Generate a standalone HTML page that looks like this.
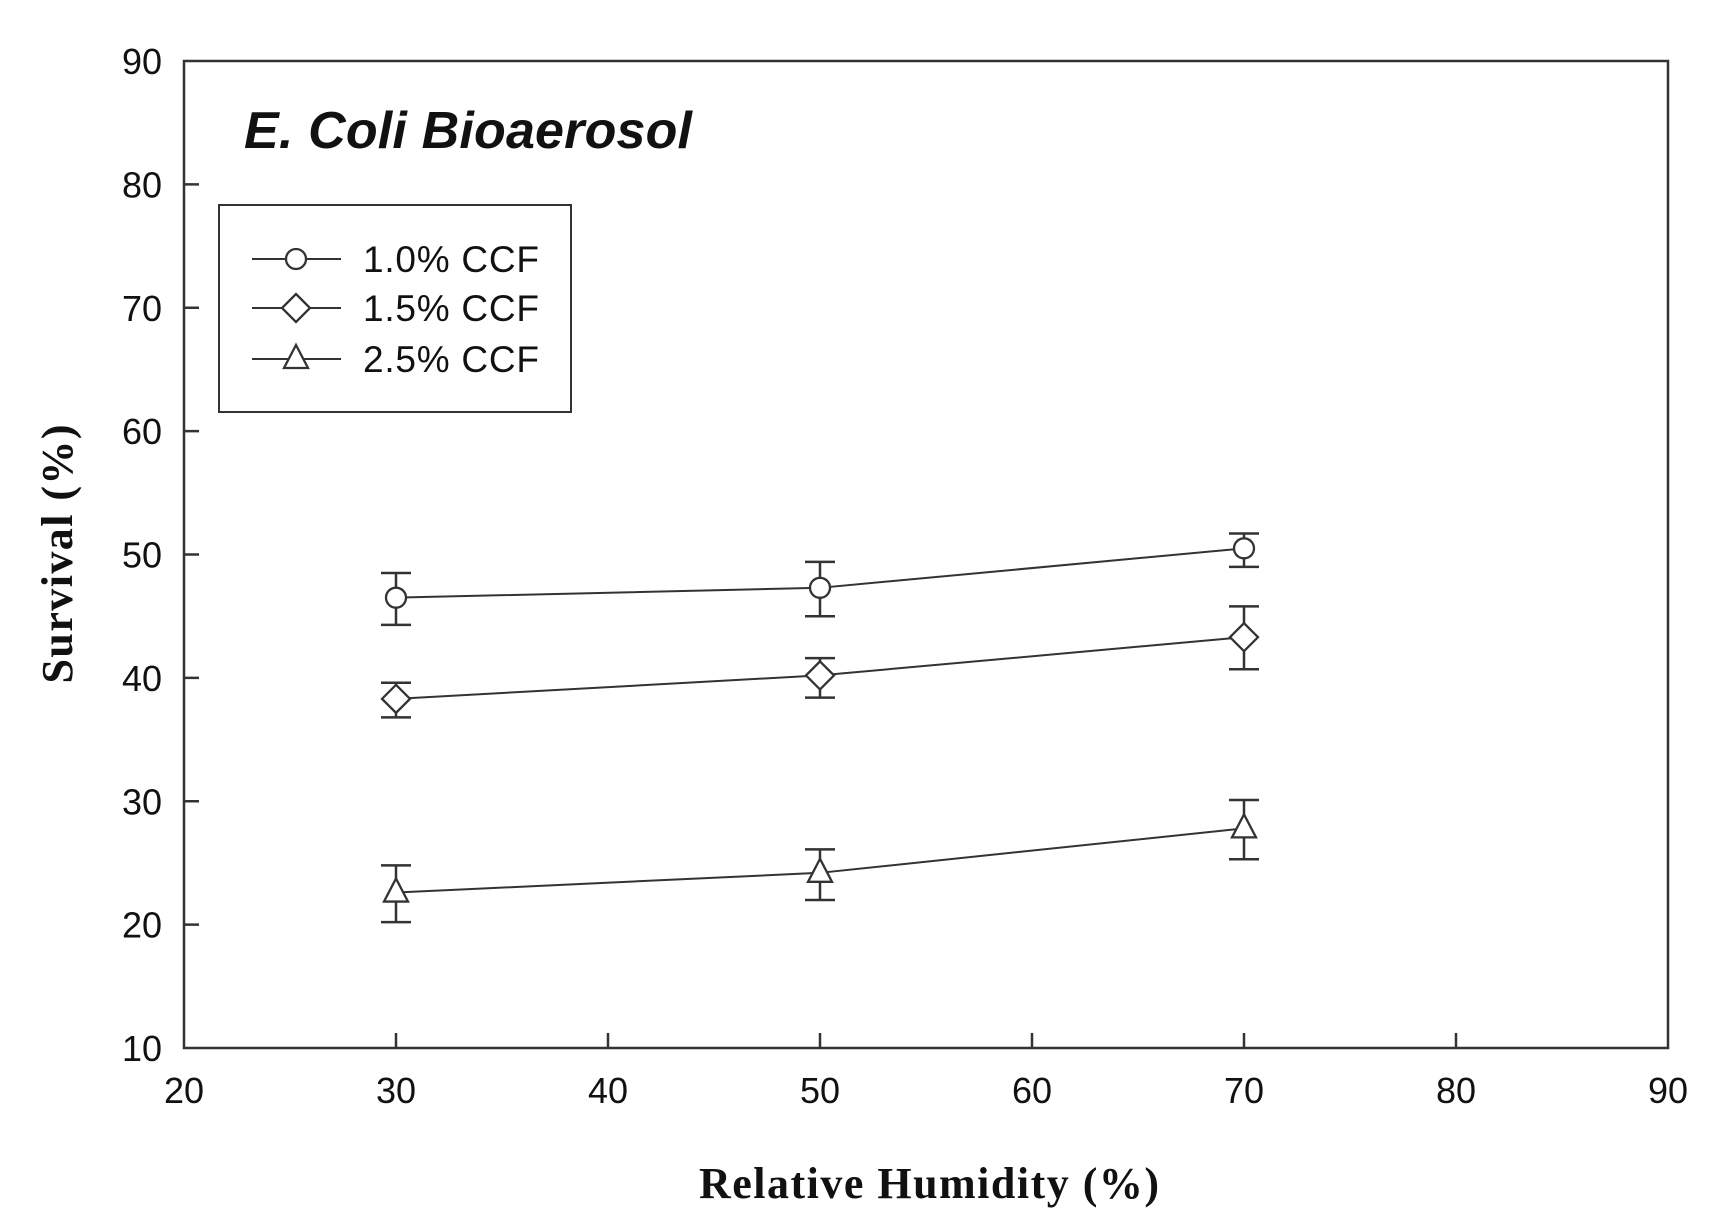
<!DOCTYPE html>
<html><head><meta charset="utf-8"><style>
html,body{margin:0;padding:0;background:#fff;}
svg{display:block;}
text{font-family:"Liberation Sans",sans-serif;fill:#111;}
</style></head><body>
<svg id="chart" width="1717" height="1226" viewBox="0 0 1717 1226" xmlns="http://www.w3.org/2000/svg">
<rect x="184" y="61" width="1484" height="987" fill="none" stroke="#333" stroke-width="2.5"/>
<g id="ticks"></g>
<g id="series"></g>
<text x="244" y="148" font-size="52" font-weight="bold" font-style="italic" textLength="448">E. Coli Bioaerosol</text>
<g>
<rect x="219" y="205" width="352" height="207" fill="#fff" stroke="#333" stroke-width="2"/>
<g id="legend-items"></g>
</g>
<text x="929" y="1198" font-size="44" font-weight="bold" text-anchor="middle" style="font-family:'Liberation Serif',serif" textLength="460">Relative Humidity (%)</text>
<text transform="translate(72,554) rotate(-90)" font-size="44" font-weight="bold" text-anchor="middle" style="font-family:'Liberation Serif',serif" textLength="259">Survival (%)</text>
</svg>
<script>
const xCategories = [30, 50, 70];
const seriesNames = ["1.0% CCF", "1.5% CCF", "2.5% CCF"];
const seriesMarkers = ["circle", "diamond", "triangle"];
const valuesCCF10 = [46.5, 47.3, 50.5];
const valuesCCF15 = [38.3, 40.2, 43.3];
const valuesCCF25 = [22.6, 24.2, 27.8];
const errUpCCF10 = [48.5, 49.4, 51.7];
const errLowCCF10 = [44.3, 45.0, 49.0];
const errUpCCF15 = [39.6, 41.6, 45.8];
const errLowCCF15 = [36.8, 38.4, 40.7];
const errUpCCF25 = [24.8, 26.1, 30.1];
const errLowCCF25 = [20.2, 22.0, 25.3];
const xTicks = [20, 30, 40, 50, 60, 70, 80, 90];
const yTicks = [10, 20, 30, 40, 50, 60, 70, 80, 90];

const NS = "http://www.w3.org/2000/svg";
const X0 = 184, X1 = 1668, Y0 = 1048, Y1 = 61;
function xs(v){ return X0 + (v - 20) / 70 * (X1 - X0); }
function ys(v){ return Y0 - (v - 10) / 80 * (Y0 - Y1); }
function mk(tag, attrs, parent){
  const e = document.createElementNS(NS, tag);
  for (const k in attrs) e.setAttribute(k, attrs[k]);
  parent.appendChild(e);
  return e;
}
const ticks = document.getElementById("ticks");
xTicks.forEach(t => {
  const x = xs(t);
  if (t > 20 && t < 90) {
    const l = mk("line", {x1:x, x2:x, y1:Y0, y2:Y0-15, stroke:"#333", "stroke-width":2.5}, ticks);
    
    
  }
  const tx = mk("text", {x:x, y:1103, "font-size":36, "text-anchor":"middle"}, ticks);
  tx.textContent = t;
  
  
});
yTicks.forEach(t => {
  const y = ys(t);
  if (t > 10 && t < 90) {
    const l = mk("line", {x1:X0, x2:X0+15, y1:y, y2:y, stroke:"#333", "stroke-width":2.5}, ticks);
    
    
  }
  const tx = mk("text", {x:162, y:y+13, "font-size":36, "text-anchor":"end"}, ticks);
  tx.textContent = t;
  
  
});

function marker(type, cx, cy, parent){
  let e;
  if (type === "circle") e = mk("circle", {cx:cx, cy:cy, r:10}, parent);
  else if (type === "diamond") e = mk("polygon", {points:`${cx},${cy-14} ${cx+14},${cy} ${cx},${cy+14} ${cx-14},${cy}`}, parent);
  else e = mk("polygon", {points:`${cx},${cy-14} ${cx+12},${cy+9} ${cx-12},${cy+9}`}, parent);
  e.setAttribute("fill", "#fff");
  e.setAttribute("stroke", "#333");
  e.setAttribute("stroke-width", 2.3);
  return e;
}

const allValues = [valuesCCF10, valuesCCF15, valuesCCF25];
const allUp = [errUpCCF10, errUpCCF15, errUpCCF25];
const allLow = [errLowCCF10, errLowCCF15, errLowCCF25];
const sg = document.getElementById("series");
allValues.forEach((vals, si) => {
  const g = mk("g", {}, sg);
  
  
  const pts = vals.map((v, i) => xs(xCategories[i]) + "," + ys(v)).join(" ");
  const pl = mk("polyline", {points:pts, fill:"none", stroke:"#333", "stroke-width":2}, g);
  
  
  vals.forEach((v, i) => {
    const x = xs(xCategories[i]);
    const yu = ys(allUp[si][i]), yl = ys(allLow[si][i]);
    const eb = mk("path", {d:`M${x},${yu}V${yl}M${x-15},${yu}H${x+15}M${x-15},${yl}H${x+15}`, stroke:"#333", "stroke-width":2.5, fill:"none"}, g);
    
    
    const m = marker(seriesMarkers[si], x, ys(v), g);
    
    
  });
});

const lg = document.getElementById("legend-items");
const legendY = [259, 308, 359];
seriesNames.forEach((n, i) => {
  const g = mk("g", {}, lg);
  
  
  mk("line", {x1:252, x2:341, y1:legendY[i], y2:legendY[i], stroke:"#333", "stroke-width":2}, g);
  marker(seriesMarkers[i], 296, legendY[i], g);
  const t = mk("text", {x:363, y:legendY[i]+13, "font-size":37, textLength:176}, g);
  t.textContent = n;
});
</script>
</body></html>
